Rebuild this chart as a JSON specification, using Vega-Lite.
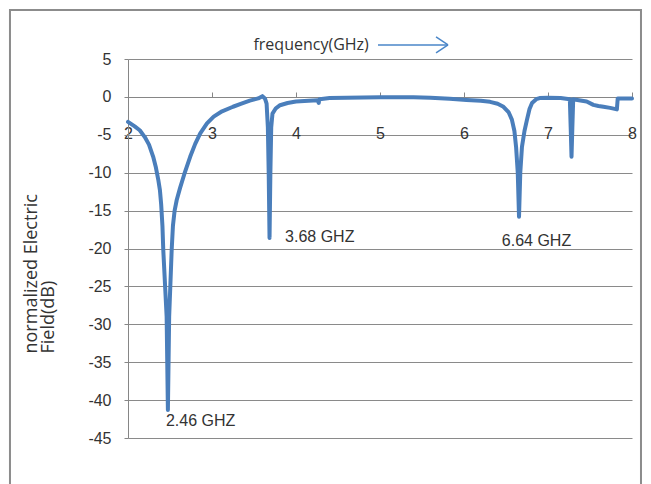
{
  "$schema": "https://vega.github.io/schema/vega-lite/v6.json",
  "width": 504,
  "height": 379,
  "autosize": "none",
  "padding": {"left": 128, "top": 59, "right": 19, "bottom": 46},
  "background": "white",
  "config": {"view": {"stroke": null}, "axis": {"labelOverlap": false}, "axisY": {"labelOverlap": false, "labelExpr": "replace(datum.label, '\u2212', '-')"}},
  "datasets": {
    "curve": [
      {"f": 2.00, "v": -3.3}, {"f": 2.08, "v": -3.9}, {"f": 2.14, "v": -4.4}, {"f": 2.20, "v": -5.3},
      {"f": 2.25, "v": -6.3}, {"f": 2.30, "v": -7.9}, {"f": 2.33, "v": -9.2}, {"f": 2.36, "v": -10.9},
      {"f": 2.38, "v": -12.3}, {"f": 2.395, "v": -14.2}, {"f": 2.41, "v": -17.0},
      {"f": 2.42, "v": -20.2}, {"f": 2.46, "v": -29.0}, {"f": 2.475, "v": -41.3}, {"f": 2.49, "v": -29.0},
      {"f": 2.52, "v": -20.2}, {"f": 2.535, "v": -17.0}, {"f": 2.555, "v": -15.0}, {"f": 2.58, "v": -13.6},
      {"f": 2.62, "v": -12.0}, {"f": 2.67, "v": -10.2}, {"f": 2.74, "v": -7.9},
      {"f": 2.80, "v": -6.2}, {"f": 2.86, "v": -4.8}, {"f": 2.94, "v": -3.5}, {"f": 3.02, "v": -2.6},
      {"f": 3.12, "v": -1.9}, {"f": 3.25, "v": -1.3}, {"f": 3.35, "v": -0.9}, {"f": 3.45, "v": -0.5},
      {"f": 3.55, "v": -0.2}, {"f": 3.60, "v": 0.1}, {"f": 3.63, "v": -0.2}, {"f": 3.65, "v": -0.9},
      {"f": 3.665, "v": -4.0}, {"f": 3.675, "v": -10.0}, {"f": 3.685, "v": -18.6}, {"f": 3.695, "v": -10.0},
      {"f": 3.705, "v": -4.0}, {"f": 3.72, "v": -2.2}, {"f": 3.76, "v": -1.5}, {"f": 3.81, "v": -1.1},
      {"f": 3.90, "v": -0.8}, {"f": 4.00, "v": -0.6}, {"f": 4.15, "v": -0.5}, {"f": 4.26, "v": -0.45},
      {"f": 4.27, "v": -0.8}, {"f": 4.28, "v": -0.3}, {"f": 4.40, "v": -0.15}, {"f": 4.60, "v": -0.1},
      {"f": 5.00, "v": -0.05}, {"f": 5.40, "v": -0.05}, {"f": 5.60, "v": -0.1}, {"f": 5.83, "v": -0.25},
      {"f": 6.03, "v": -0.4}, {"f": 6.20, "v": -0.5}, {"f": 6.31, "v": -0.65}, {"f": 6.40, "v": -0.9},
      {"f": 6.47, "v": -1.3}, {"f": 6.53, "v": -2.0}, {"f": 6.57, "v": -3.0}, {"f": 6.60, "v": -4.5},
      {"f": 6.62, "v": -6.6}, {"f": 6.64, "v": -10.0}, {"f": 6.655, "v": -15.8}, {"f": 6.67, "v": -10.0},
      {"f": 6.69, "v": -6.6}, {"f": 6.72, "v": -4.5}, {"f": 6.75, "v": -3.0}, {"f": 6.78, "v": -1.6},
      {"f": 6.81, "v": -0.8}, {"f": 6.86, "v": -0.3}, {"f": 6.90, "v": -0.15}, {"f": 7.00, "v": -0.1},
      {"f": 7.15, "v": -0.15}, {"f": 7.26, "v": -0.3}, {"f": 7.27, "v": -4.0}, {"f": 7.28, "v": -7.9},
      {"f": 7.29, "v": -4.0}, {"f": 7.30, "v": -0.3}, {"f": 7.35, "v": -0.4}, {"f": 7.46, "v": -0.6},
      {"f": 7.54, "v": -1.05}, {"f": 7.60, "v": -1.2}, {"f": 7.66, "v": -1.3}, {"f": 7.74, "v": -1.45},
      {"f": 7.82, "v": -1.65}, {"f": 7.83, "v": -0.2}, {"f": 8.00, "v": -0.2}
    ],
    "labels": [
      {"f": 2.452, "v": -42.7, "t": "2.46 GHZ"},
      {"f": 3.87, "v": -18.5, "t": "3.68 GHZ"},
      {"f": 6.45, "v": -19.0, "t": "6.64 GHZ"}
    ],
    "arrow": [
      {"f": 4.976, "v": 6.86, "f2": 5.81, "v2": 6.86},
      {"f": 5.667, "v": 7.92, "f2": 5.81, "v2": 6.86},
      {"f": 5.667, "v": 5.80, "f2": 5.81, "v2": 6.86}
    ],
    "frame": [{"f": 0.595, "v": 11.48, "f2": 8.107, "v2": -52.5}],
    "title": [{"f": 4.18, "v": 6.86, "t": "frequency(GHz)"}]
  },
  "layer": [
    {
      "data": {"name": "frame"},
      "mark": {"type": "rect", "fill": null, "stroke": "#8c8c8c", "strokeWidth": 2, "clip": false},
      "encoding": {
        "x": {
          "field": "f", "type": "quantitative",
          "scale": {"domain": [2, 8], "nice": false, "zero": false},
          "axis": {
            "orient": "bottom", "offset": -341, "title": null,
            "values": [2, 3, 4, 5, 6, 7, 8], "tickCount": 7, "format": "d",
            "grid": false, "domainColor": "#868686", "domainWidth": 1,
            "tickColor": "#868686", "tickSize": -5, "labelPadding": 41,
            "labelFont": "Liberation Sans Narrow, Liberation Sans", "labelFontSize": 16,
            "labelColor": "#333333", "labelBaseline": "middle", "labelFlush": false
          }
        },
        "x2": {"field": "f2"},
        "y": {
          "field": "v", "type": "quantitative",
          "scale": {"domain": [-45, 5], "nice": false, "zero": false},
          "axis": {
            "values": [-45, -40, -35, -30, -25, -20, -15, -10, -5, 0, 5],
            "tickCount": 11,
            "labelOverlap": false,
            "title": ["normalized Electric", "Field(dB)"],
            "titleFont": "Open Sans", "titleFontSize": 18, "titleFontWeight": "normal",
            "titleColor": "#333333", "titleAngle": -90, "titleAlign": "left",
            "titleBaseline": "top", "titleLineHeight": 17,
            "titleX": -106, "titleY": 294,
            "grid": true, "gridColor": "#8a8a8a", "gridWidth": 1,
            "domainColor": "#868686", "tickColor": "#868686", "tickSize": 4,
            "labelPadding": 13, "labelFont": "Liberation Sans Narrow, Liberation Sans",
            "labelFontSize": 16, "labelColor": "#333333"
          }
        },
        "y2": {"field": "v2"}
      }
    },
    {
      "data": {"name": "curve"},
      "mark": {"type": "line", "color": "#4A7EBB", "strokeWidth": 4, "strokeJoin": "round", "strokeCap": "round"},
      "encoding": {
        "x": {"field": "f", "type": "quantitative"},
        "y": {"field": "v", "type": "quantitative"}
      }
    },
    {
      "data": {"name": "labels"},
      "mark": {"type": "text", "align": "left", "baseline": "middle", "font": "Liberation Sans Narrow, Liberation Sans", "fontSize": 16, "color": "#333333"},
      "encoding": {
        "x": {"field": "f", "type": "quantitative"},
        "y": {"field": "v", "type": "quantitative"},
        "text": {"field": "t"}
      }
    },
    {
      "data": {"name": "title"},
      "mark": {"type": "text", "align": "center", "baseline": "middle", "font": "Open Sans", "fontSize": 16, "color": "#333333", "clip": false},
      "encoding": {
        "x": {"field": "f", "type": "quantitative"},
        "y": {"field": "v", "type": "quantitative"},
        "text": {"field": "t"}
      }
    },
    {
      "data": {"name": "arrow"},
      "mark": {"type": "rule", "color": "#4A86C8", "strokeWidth": 1.5, "clip": false},
      "encoding": {
        "x": {"field": "f", "type": "quantitative"},
        "y": {"field": "v", "type": "quantitative"},
        "x2": {"field": "f2"},
        "y2": {"field": "v2"}
      }
    }
  ]
}
